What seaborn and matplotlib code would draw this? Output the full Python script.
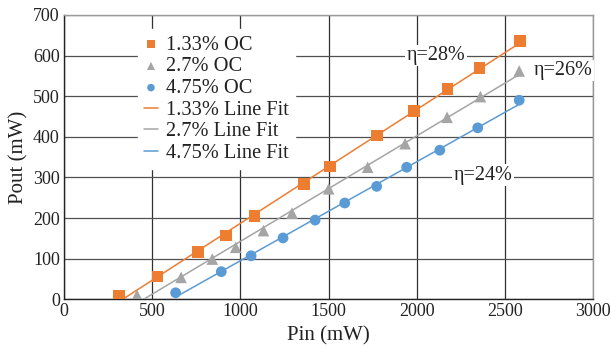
import numpy as np
import pandas as pd
import matplotlib
matplotlib.use("Agg")
import matplotlib.pyplot as plt
import seaborn as sns

# Measured input/output power for three output-coupler transmissions
pin_133 = [312, 530, 760, 920, 1080, 1360, 1510, 1775, 1985, 2175, 2355, 2585]
pout_133 = [8, 56, 116, 157, 205, 284, 327, 403, 463, 517, 569, 636]

pin_27 = [414, 664, 841, 974, 1131, 1293, 1501, 1722, 1934, 2172, 2361, 2581]
pout_27 = [10, 54, 99, 128, 169, 212, 272, 325, 383, 448, 499, 562]

pin_475 = [633, 892, 1061, 1242, 1424, 1592, 1773, 1943, 2131, 2346, 2581]
pout_475 = [16, 68, 107, 151, 195, 237, 278, 325, 367, 422, 490]

series_names = ["1.33% OC", "2.7% OC", "4.75% OC"]
fit_names = ["1.33% Line Fit", "2.7% Line Fit", "4.75% Line Fit"]
colors = ["#ED7D31", "#A5A5A5", "#5B9BD5"]
markers = ["s", "^", "o"]
marker_sizes = [70, 70, 60]

eff_labels = ["η=28%", "η=26%", "η=24%"]
eff_pos = [(2110, 600), (2830, 563), (2377, 305)]

x_ticks = [0, 500, 1000, 1500, 2000, 2500, 3000]
y_ticks = [0, 100, 200, 300, 400, 500, 600, 700]

sns.set_theme(style="white")
plt.rcParams["font.family"] = ["Liberation Serif", "DejaVu Serif"]

fig = plt.figure(figsize=(6.11, 3.47), dpi=100)
ax = fig.add_axes([0.1047, 0.1375, 0.866, 0.8195])

data = [(pin_133, pout_133), (pin_27, pout_27), (pin_475, pout_475)]

scatter_handles = []
line_handles = []
for (px, py), name, fname, c, m, s in zip(data, series_names, fit_names,
                                          colors, markers, marker_sizes):
    df = pd.DataFrame({"Pin": px, "Pout": py})
    slope, icpt = np.polyfit(df["Pin"], df["Pout"], 1)
    xf = np.array([min(px), max(px)])
    fit_df = pd.DataFrame({"Pin": xf, "Pout": slope * xf + icpt})
    sns.lineplot(data=fit_df, x="Pin", y="Pout", color=c, linewidth=1.1,
                 ax=ax, zorder=3)
    line_handles.append(ax.lines[-1])
    sns.scatterplot(data=df, x="Pin", y="Pout", marker=m, s=s, color=c,
                    edgecolor="none", ax=ax, zorder=4)
    scatter_handles.append(ax.collections[-1])

ax.set_xlim(0, 3000)
ax.set_ylim(0, 700)
ax.set_xticks(x_ticks)
ax.set_yticks(y_ticks)
ax.tick_params(axis="both", labelsize=13, length=0, colors="#222222")
ax.tick_params(axis="x", pad=3)
ax.tick_params(axis="y", pad=3)
ax.grid(True, axis="y", color="#505050", linewidth=0.9)
ax.grid(True, axis="x", color="#303030", linewidth=0.9)
ax.set_axisbelow(True)
for side in ["left", "bottom"]:
    ax.spines[side].set_color("#222222")
    ax.spines[side].set_linewidth(1.0)
for side in ["top", "right"]:
    ax.spines[side].set_color("#999999")
    ax.spines[side].set_linewidth(1.0)

ax.set_xlabel("Pin (mW)", fontsize=15, color="#222222", labelpad=4)
ax.set_ylabel("Pout (mW)", fontsize=15, color="#222222", labelpad=3)

for lbl, (ex, ey) in zip(eff_labels, eff_pos):
    ax.text(ex, ey, lbl, fontsize=14.5, ha="center", va="center", color="#222222",
            zorder=5, bbox=dict(facecolor="white", edgecolor="none", pad=1.0))

leg = ax.legend(scatter_handles + line_handles, series_names + fit_names,
                loc="upper left", bbox_to_anchor=(0.121, 0.986), fontsize=14.7,
                frameon=True, framealpha=1, edgecolor="white",
                labelspacing=0.12, handlelength=0.65, handletextpad=0.4,
                borderpad=0.3, fancybox=False, markerscale=0.7)
leg.set_zorder(6)
for t in leg.get_texts():
    t.set_color("#222222")

fig.savefig("out.png", dpi=100)
